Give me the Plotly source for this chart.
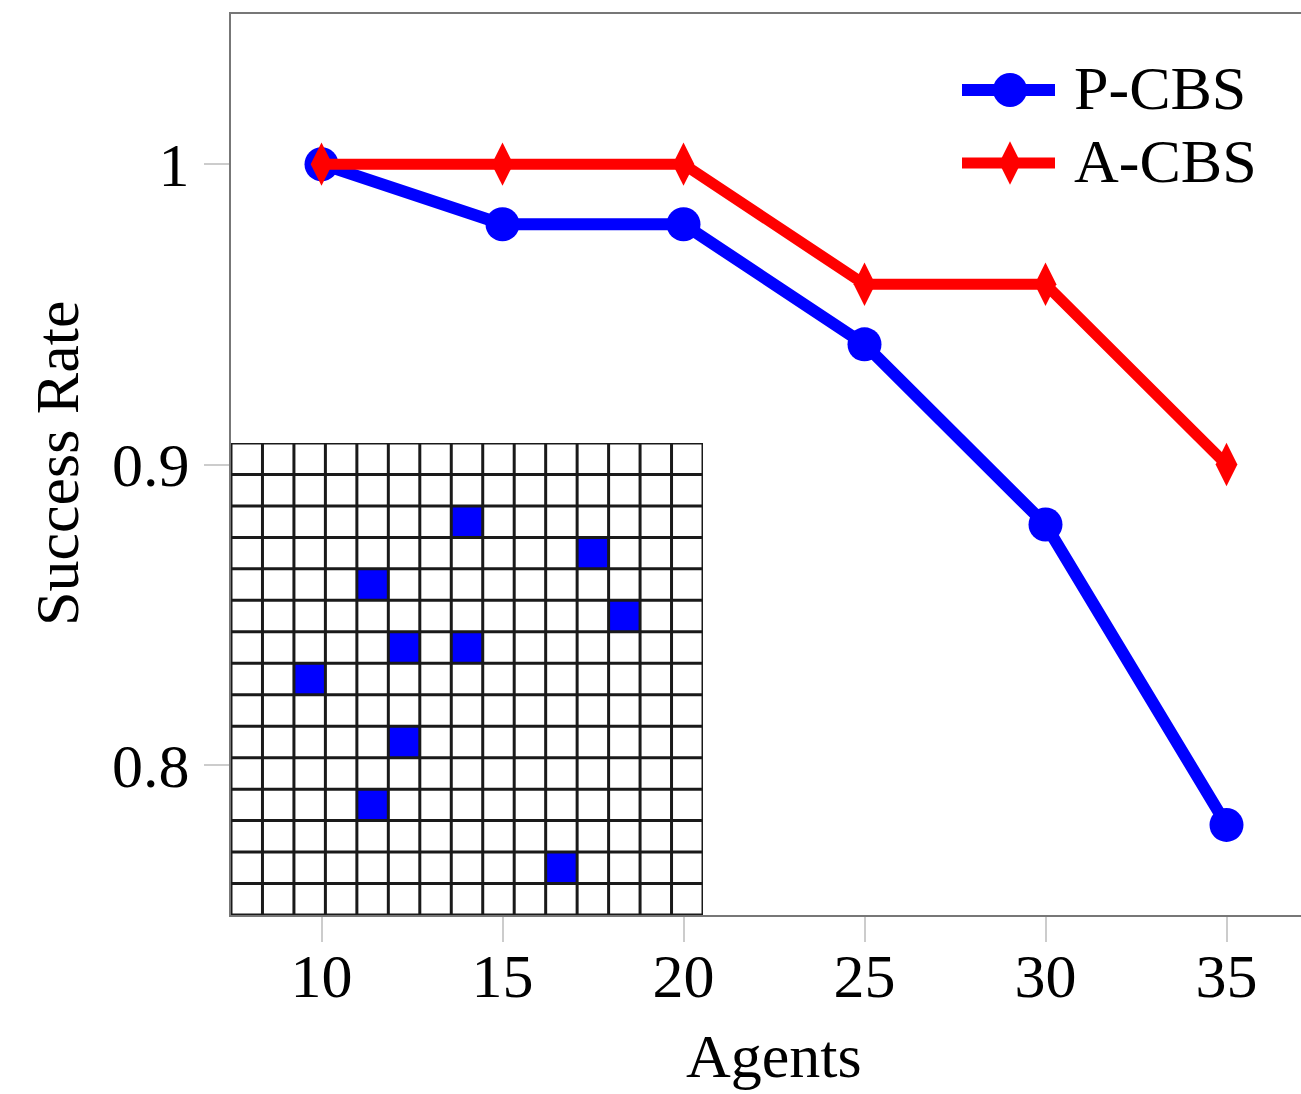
import plotly.graph_objects as go

# ---- data ----
agents = [10, 15, 20, 25, 30, 35]
p_cbs = [1.00, 0.98, 0.98, 0.94, 0.88, 0.78]
a_cbs = [1.00, 1.00, 1.00, 0.96, 0.96, 0.90]
y_ticks = [0.8, 0.9, 1.0]
y_tick_labels = ["0.8", "0.9", "1"]
series_names = ["P-CBS", "A-CBS"]
x_title = "Agents"
y_title = "Success Rate"

# inset grid map (15 x 15), obstacle cells as (column, row-from-top)
grid_n = 15
obstacle_cols = [7, 11, 4, 12, 5, 7, 2, 5, 4, 10]
obstacle_rows = [2, 3, 4, 5, 6, 6, 7, 9, 11, 13]

BLUE = "#0000ff"
RED = "#ff0000"
FONT = "Liberation Serif"

W, H = 1301, 1094
ML, MR, MT, MB = 231, 0, 14, 179
PW = W - ML - MR
PH = H - MT - MB
px_per_x = 36.2
x_range = [7.5, 7.5 + PW / px_per_x]
y_range = [0.75, 1.05]


def px_to_paper(px, py):
    return (px - ML) / PW, (H - MB - py) / PH


fig = go.Figure()

fig.add_trace(go.Scatter(
    x=agents, y=p_cbs, mode="lines+markers", name=series_names[0],
    line=dict(color=BLUE, width=12),
    marker=dict(symbol="circle", size=34, color=BLUE),
    showlegend=False, xaxis="x", yaxis="y"))
fig.add_trace(go.Scatter(
    x=agents, y=a_cbs, mode="lines+markers", name=series_names[1],
    line=dict(color=RED, width=11),
    marker=dict(symbol="diamond-tall", size=31, color=RED),
    showlegend=False, xaxis="x", yaxis="y"))

# ---- inset grid ----
z = [[None] * grid_n for _ in range(grid_n)]
for c, r in zip(obstacle_cols, obstacle_rows):
    z[r][c] = 1
centers = [i + 0.5 for i in range(grid_n)]
fig.add_trace(go.Heatmap(
    z=z, x=centers, y=centers, colorscale=[[0, BLUE], [1, BLUE]],
    showscale=False, hoverinfo="skip", xaxis="x2", yaxis="y2"))
gx, gy = [], []
for i in range(grid_n + 1):
    gx += [i, i, None]
    gy += [0, grid_n, None]
    gx += [0, grid_n, None]
    gy += [i, i, None]
fig.add_trace(go.Scatter(
    x=gx, y=gy, mode="lines", line=dict(color="#1a1a1a", width=3),
    showlegend=False, hoverinfo="skip", xaxis="x2", yaxis="y2"))

# ---- manual legend (pixel-like overlay axes) ----
leg_x0, leg_x1, leg_xm = 962, 1055, 1010
leg_rows = [90, 163]
leg_styles = [(BLUE, 12, "circle", 34), (RED, 11, "diamond-tall", 31)]
for name, yy, (col, lw, sym, ms) in zip(series_names, leg_rows, leg_styles):
    fig.add_trace(go.Scatter(
        x=[leg_x0, leg_x1], y=[yy, yy], mode="lines",
        line=dict(color=col, width=lw), showlegend=False,
        hoverinfo="skip", xaxis="x3", yaxis="y3"))
    fig.add_trace(go.Scatter(
        x=[leg_xm], y=[yy], mode="markers",
        marker=dict(symbol=sym, size=ms, color=col), showlegend=False,
        hoverinfo="skip", xaxis="x3", yaxis="y3"))
    fig.add_annotation(
        x=1072, y=yy - 2, xref="x3", yref="y3", text=name, showarrow=False,
        xanchor="left", yanchor="middle",
        font=dict(family=FONT, size=62, color="black"))

# ---- axis titles ----
tx, ty = px_to_paper(774, 1056)
fig.add_annotation(x=tx, y=ty, xref="paper", yref="paper", text=x_title,
                   showarrow=False, xanchor="center", yanchor="middle",
                   font=dict(family=FONT, size=62, color="black"))
tx, ty = px_to_paper(57, 464)
fig.add_annotation(x=tx, y=ty, xref="paper", yref="paper", text=y_title,
                   showarrow=False, xanchor="center", yanchor="middle",
                   textangle=-90,
                   font=dict(family=FONT, size=62, color="black"))

inset_px = 472
fig.update_layout(
    width=W, height=H,
    margin=dict(l=ML, r=MR, t=MT, b=MB, pad=0),
    paper_bgcolor="white", plot_bgcolor="white",
    font=dict(family=FONT, size=62, color="black"),
    xaxis=dict(
        range=x_range, domain=[0, 1], tickvals=agents,
        ticktext=[str(a) for a in agents],
        showgrid=False, zeroline=False,
        showline=True, linecolor="#777777", linewidth=2, mirror=True,
        ticks="outside", ticklen=25, tickwidth=2, tickcolor="#cccccc",
        ticklabelstandoff=-19,
        tickfont=dict(family=FONT, size=62, color="black"),
    ),
    yaxis=dict(
        range=y_range, domain=[0, 1], tickvals=y_ticks, ticktext=y_tick_labels,
        showgrid=False, zeroline=False,
        showline=True, linecolor="#777777", linewidth=2, mirror=False,
        ticks="outside", ticklen=25, tickwidth=2, tickcolor="#cccccc",
        ticklabelstandoff=2,
        tickfont=dict(family=FONT, size=62, color="black"),
    ),
    xaxis2=dict(
        domain=[0, inset_px / PW], range=[0, grid_n], anchor="y2",
        visible=False, fixedrange=True),
    yaxis2=dict(
        domain=[0, inset_px / PH], range=[grid_n, 0], anchor="x2",
        visible=False, fixedrange=True),
    xaxis3=dict(domain=[0, 1], range=[ML, W - MR], anchor="y3",
                visible=False, fixedrange=True, overlaying="x"),
    yaxis3=dict(domain=[0, 1], range=[H - MB, MT], anchor="x3",
                visible=False, fixedrange=True, overlaying="y"),
)

fig.write_html("out.html")
